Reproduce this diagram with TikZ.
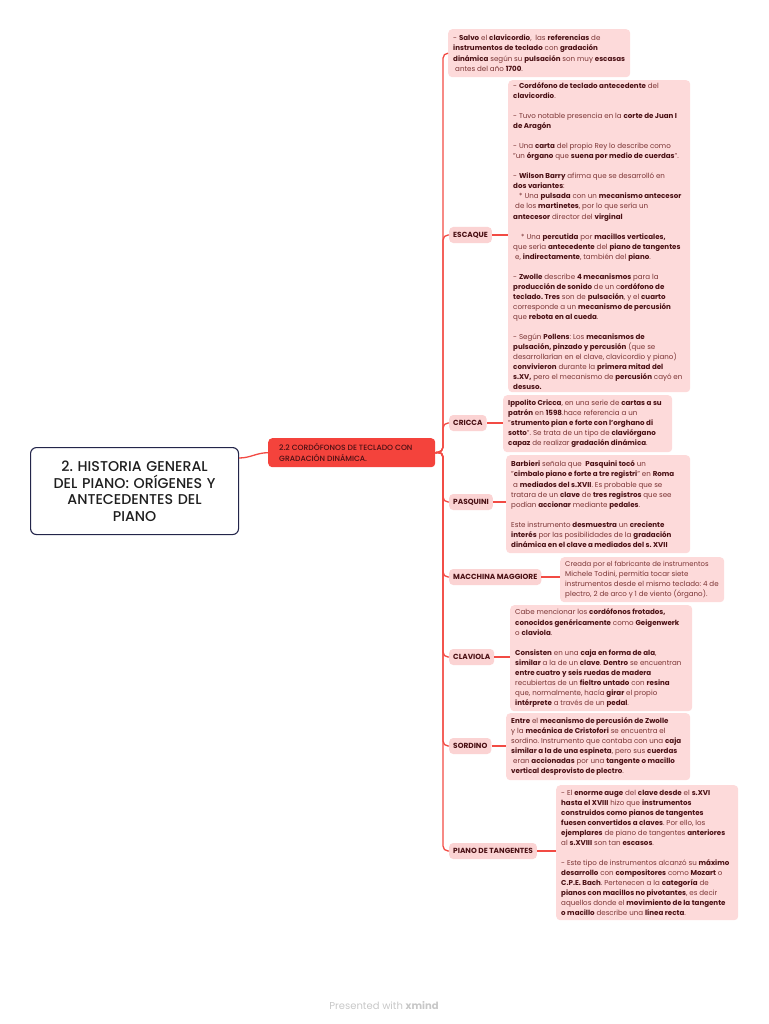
\documentclass[tikz,border=0pt]{standalone}
\usepackage{fontspec}
\setmainfont{Poppins}
\newfontfamily\titlefont{Poppins}[UprightFont=* Medium]
\usetikzlibrary{calc}
\definecolor{boxfill}{HTML}{FDDADA}
\definecolor{labfill}{HTML}{FBD3D3}
\definecolor{tb}{HTML}{4A1014}
\definecolor{tr}{HTML}{7A3434}
\definecolor{linec}{HTML}{F24B44}
\definecolor{subfill}{HTML}{F4433C}
\definecolor{navy}{HTML}{23254A}
\newcommand\bo[1]{{\bfseries\color{tb}#1}}
\newcommand\bl{\\ \mbox{}\\}
\tikzset{
  boxs/.style={fill=boxfill, rounded corners=4pt, anchor=north west, inner sep=0pt},
  txt/.style={anchor=west, inner sep=0pt, align=left, text=tr, font=\fontsize{7.1}{10.05}\selectfont},
  lab/.style={fill=labfill, rounded corners=4pt, anchor=west, inner xsep=4pt, inner ysep=0pt,
     minimum height=16pt, text=tb, font=\bfseries\fontsize{7.4}{8}\selectfont},
  conn/.style={draw=linec, line width=1.3pt, rounded corners=5pt},
}
% name, x, y, w, h, text
\newcommand\tbox[6]{%
  \node[boxs, minimum width=#4pt, minimum height=#5pt] (#1) at (#2,#3) {};
  \node[txt] (#1t) at ([xshift=5pt]#1.west) {#6};}
\begin{document}
\frenchspacing
\begin{tikzpicture}[x=1pt,y=-1pt]
\useasboundingbox (0,0) rectangle (768,1024);
% main topic
\node[draw=navy, line width=1.1pt, fill=white, rounded corners=6pt, anchor=north west,
  minimum width=208pt, minimum height=87pt, text width=200pt, align=center, inner sep=0pt,
  text=black!88, font=\titlefont\fontsize{14.2}{16.5}\selectfont] (main) at (30,447)
  {2. HISTORIA GENERAL\\DEL PIANO: ORÍGENES Y\\ANTECEDENTES DEL\\PIANO};
% subtopic
\node[fill=subfill, rounded corners=4pt, anchor=north west, minimum width=167pt, minimum height=29pt,
  inner sep=0pt] (sub) at (268,438) {};
\node[anchor=west, align=left, inner sep=0pt, text=tb,
  font=\titlefont\fontsize{7.6}{10.8}\selectfont] (subt) at ([xshift=11pt]sub.west)
  {2.2 CORDÓFONOS DE TECLADO CON\\GRADACIÓN DINÁMICA.};
% boxes
\tbox{top}{448}{29}{182}{48}
{- \bo{Salvo} el \bo{clavicordio}, \ las \bo{referencias} de\\
\bo{instrumentos de teclado} con \bo{gradación}\\
\bo{dinámica} según su \bo{pulsación} son muy \bo{escasas}\\
\hspace{2pt}antes del año \bo{1700}.}
\tbox{esc}{508}{80}{182}{312}
{- \bo{Cordófono de teclado antecedente} del\\
\bo{clavicordio}.\bl
- Tuvo notable presencia en la \bo{corte de Juan I}\\
\bo{de Aragón}\bl
- Una \bo{carta} del propio Rey lo describe como\\
"un \bo{órgano} que \bo{suena por medio de cuerdas}".\bl
- \bo{Wilson Barry} afirma que se desarrolló en\\
\bo{dos variantes}:\\
\hspace{6pt}* Una \bo{pulsada} con un \bo{mecanismo antecesor}\\
\hspace{2pt}de los \bo{martinetes}, por lo que sería un\\
\bo{antecesor} director del \bo{virginal}\bl
\hspace{8pt}* Una \bo{percutida} por \bo{macillos verticales,}\\
que sería \bo{antecedente} del \bo{piano de tangentes}\\
\hspace{2pt}e, \bo{indirectamente}, también del \bo{piano}.\bl
- \bo{Zwolle} describe \bo{4 mecanismos} para la\\
\bo{producción de sonido} de un c\bo{ordófono de}\\
\bo{teclado. Tres} son de \bo{pulsación}, y el \bo{cuarto}\\
corresponde a un \bo{mecanismo de percusión}\\
que \bo{rebota en al cueda}.\bl
- Según \bo{Pollens}: Los \bo{mecanismos de}\\
\bo{pulsación, pinzado y percusión} (que se\\
desarrollarían en el clave, clavicordio y piano)\\
\bo{convivieron} durante la \bo{primera mitad del}\\
\bo{s.XV,} pero el mecanismo de \bo{percusión} cayó en\\
\bo{desuso.}}
\tbox{cri}{503}{395}{169}{57}
{\bo{Ippolito Cricca}, en una serie de \bo{cartas a su}\\
\bo{patrón} en \bo{1598}.hace referencia a un\\
"\bo{strumento pian e forte con l'orghano di}\\
\bo{sotto}". Se trata de un tipo de \bo{claviórgano}\\
\bo{capaz} de realizar \bo{gradación dinámica}.}
\tbox{pas}{506}{455}{184}{98}
{\bo{Barbieri} señala que \ \bo{Pasquini tocó} un\\
"\bo{cimbalo piano e forte a tre registri}" en \bo{Roma}\\
\hspace{2pt}a \bo{mediados del s.XVII}. Es probable que se\\
tratara de un \bo{clave} de \bo{tres registros} que see\\
podían \bo{accionar} mediante \bo{pedales}.\bl
Este instrumento \bo{desmuestra} un \bo{creciente}\\
\bo{interés} por las posibilidades de la \bo{gradación}\\
\bo{dinámica en el clave a mediados del s. XVII}}
\tbox{mac}{560}{557}{164}{45}
{\fontsize{6.9}{10.3}\selectfont Creada por el fabricante de instrumentos\\
Michele Todini, permitía tocar siete\\
instrumentos desde el mismo teclado: 4 de\\
plectro, 2 de arco y 1 de viento (órgano).}
\tbox{cla}{510}{605}{182}{106}
{Cabe mencionar los \bo{cordófonos frotados,}\\
\bo{conocidos genéricamente} como \bo{Geigenwerk}\\
o \bo{claviola}.\bl
\bo{Consisten} en una \bo{caja en forma de ala},\\
\bo{similar} a la de un \bo{clave}. \bo{Dentro} se encuentran\\
\bo{entre cuatro y seis ruedas de madera}\\
recubiertas de un \bo{fieltro untado} con \bo{resina}\\
que, normalmente, hacía \bo{girar} el propio\\
\bo{intérprete} a través de un \bo{pedal}.}
\tbox{sor}{506}{713}{184}{67}
{\bo{Entre} el \bo{mecanismo de percusión de Zwolle}\\
y la \bo{mecánica de Cristofori} se encuentra el\\
sordino. Instrumento que contaba con una \bo{caja}\\
\bo{similar a la de una espineta}, pero sus \bo{cuerdas}\\
\hspace{2pt}eran \bo{accionadas} por una \bo{tangente o macillo}\\
\bo{vertical desprovisto de plectro}.}
\tbox{pia}{556}{785}{182}{135}
{- El \bo{enorme auge} del \bo{clave desde} el \bo{s.XVI}\\
\bo{hasta el XVIII} hizo que \bo{instrumentos}\\
\bo{construidos como pianos de tangentes}\\
\bo{fuesen convertidos a claves}. Por ello, los\\
\bo{ejemplares} de piano de tangentes \bo{anteriores}\\
al \bo{s.XVIII} son tan \bo{escasos}.\bl
- Este tipo de instrumentos alcanzó su \bo{máximo}\\
\bo{desarrollo} con \bo{compositores} como \bo{Mozart} o\\
\bo{C.P.E. Bach}. Pertenecen a la \bo{categoría} de\\
\bo{pianos con macillos no pivotantes}, es decir\\
aquellos donde el \bo{movimiento de la tangente}\\
\bo{o macillo} describe una \bo{línea recta}.}
% labels
\node[lab] (lesc) at (449,235) {ESCAQUE};
\node[lab] (lcri) at (449,423) {CRICCA};
\node[lab] (lpas) at (449,502) {PASQUINI};
\node[lab] (lmac) at (449,577) {MACCHINA MAGGIORE};
\node[lab] (lcla) at (449,657) {CLAVIOLA};
\node[lab] (lsor) at (449,746) {SORDINO};
\node[lab] (lpia) at (449,851) {PIANO DE TANGENTES};
% connectors
\coordinate (sp) at (443,452);
\draw[linec, line width=1.3pt] ($(main.north east)+(0,11)$) to[out=0,in=180] (sub.west);
\foreach \t in {top,lesc,lcri,lpas,lmac,lcla,lsor,lpia}
  \draw[conn] (sub.east) -- (sp) |- (\t.west);
\foreach \a/\b in {lesc/esc,lcri/cri,lpas/pas,lmac/mac,lcla/cla,lsor/sor,lpia/pia}
  \draw[linec, line width=1.3pt] (\a.east) -- (\a.east -| \b.west);
% footer
\node[text=black!22, font=\fontsize{10}{12}\selectfont] (foot) at (384,1006) {Presented with \textbf{xmind}};
\end{tikzpicture}
\end{document}
